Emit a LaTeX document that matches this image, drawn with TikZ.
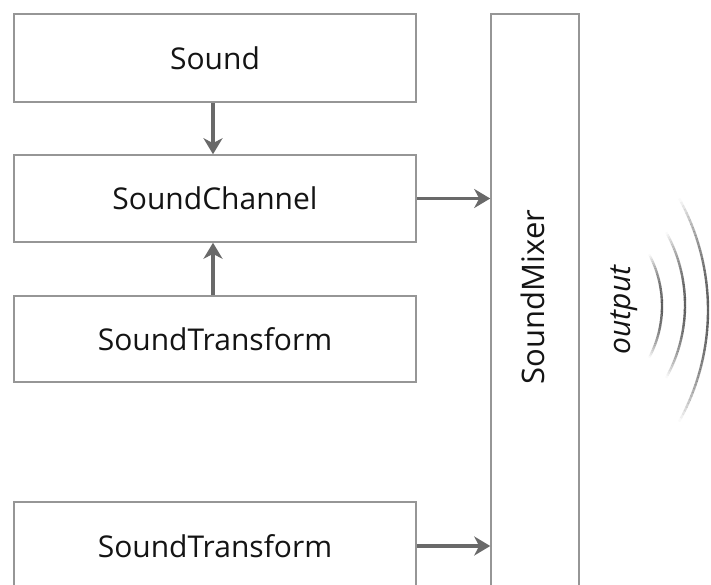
\documentclass[tikz,border=0pt]{standalone}
\usepackage{fontspec}
\setmainfont{Open Sans}
\usetikzlibrary{arrows.meta}
\definecolor{boxline}{RGB}{150,150,150}
\definecolor{arrowc}{RGB}{105,105,105}
\definecolor{txt}{RGB}{20,20,20}
\tikzset{
  blk/.style={draw=boxline, line width=1.6pt, fill=white, text=txt, font=\fontsize{30}{36}\selectfont},
  conn/.style={draw=arrowc, line width=3.6pt, -{Stealth[length=16pt,width=19pt,inset=5pt]}},
}
\begin{document}
\begin{tikzpicture}[x=1pt,y=-1pt]
\useasboundingbox (0,0) rectangle (711,585);
\begin{scope}
\clip (0,0) rectangle (711,585);
\node[blk, minimum width=402pt, minimum height=88pt] (sound) at (215,58) {Sound};
\node[blk, minimum width=402pt, minimum height=87pt] (chan) at (215,198.5) {SoundChannel};
\node[blk, minimum width=402pt, minimum height=86pt] (tr1) at (215,339) {SoundTransform};
\node[blk, minimum width=402pt, minimum height=88pt] (tr2) at (215,546) {SoundTransform};
\node[blk, minimum width=88pt, minimum height=580pt] (mix) at (535,304) {};
\node[text=txt, font=\fontsize{31}{36}\selectfont, rotate=90] (mixlbl) at (533,297) {SoundMixer};
\node[text=txt, font=\fontsize{30}{36}\selectfont\itshape, rotate=90] (outlbl) at (624,310) {output};
\draw[conn] (sound.south -| 213,0) -- (chan.north -| 213,0);
\draw[conn] (tr1.north -| 213,0) -- (chan.south -| 213,0);
\draw[conn] (chan.east) -- (chan.east -| mix.west);
\draw[conn] (tr2.east) -- (tr2.east -| mix.west);
% sound waves
\foreach \cx/\cy/\r/\amax in {552/306/110/28, 535/305/150/29, 478/310/230/29} {
  \foreach \a in {-30,-29,...,29} {
    \pgfmathsetmacro{\op}{max(0,1-((abs(\a+0.5))/\amax)^2)*0.6}
    \draw[draw=black, line width=2.4pt, draw opacity=\op]
      ([shift={(\a:\r)}]\cx,\cy) arc[start angle=\a, end angle=\a+1.05, radius=\r];
  }
}
\end{scope}
\end{tikzpicture}
\end{document}
